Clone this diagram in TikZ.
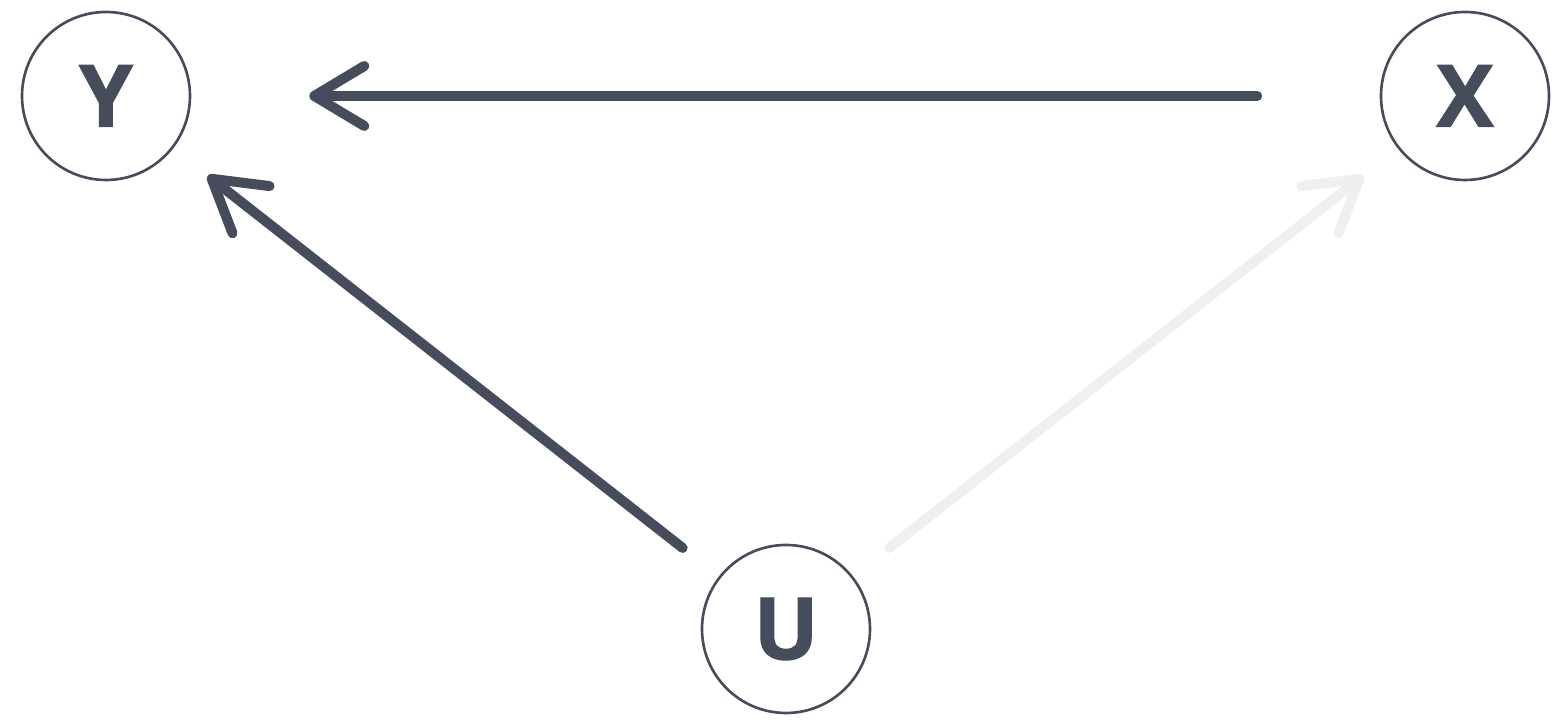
\documentclass[tikz,border=0pt]{standalone}
\usepackage{fontspec}
\setmainfont{Open Sans}[BoldFeatures={FakeBold=1.2}]
\usepackage{tikz}
\usetikzlibrary{arrows.meta}
\definecolor{slate}{RGB}{69,76,92}
\definecolor{faint}{RGB}{238,239,241}
\tikzset{
    varnode/.style={
        circle,
        draw=slate,
        line width=1.5pt,
        minimum size=3.36cm,
        inner sep=0pt,
        text=slate,
        font=\fontsize{49}{50}\selectfont\bfseries
    },
    % arrows between the variables
    causearrow/.style={
        line width=0.2cm,
        slate,
        line cap=round,
        line join=round,
        -{Straight Barb[length=1.0cm, width=1.2cm, round]}
    },
    fadearrow/.style={
        causearrow,
        faint
    }
}
\begin{document}
\begin{tikzpicture}
    \useasboundingbox (0,0) rectangle (31.28,14.56);
    \node[varnode] (Y) at (2.12,12.64) {Y};
    \node[varnode] (X) at (29.30,12.64) {X};
    \node[varnode] (U) at (15.72,1.98) {U};

    \draw[causearrow, shorten <=2.45cm, shorten >=2.36cm] (X) -- (Y);
    \draw[causearrow, shorten <=0.92cm, shorten >=0.88cm] (U) -- (Y);
    \draw[fadearrow, shorten <=0.92cm, shorten >=0.88cm] (U) -- (X);
\end{tikzpicture}
\end{document}
